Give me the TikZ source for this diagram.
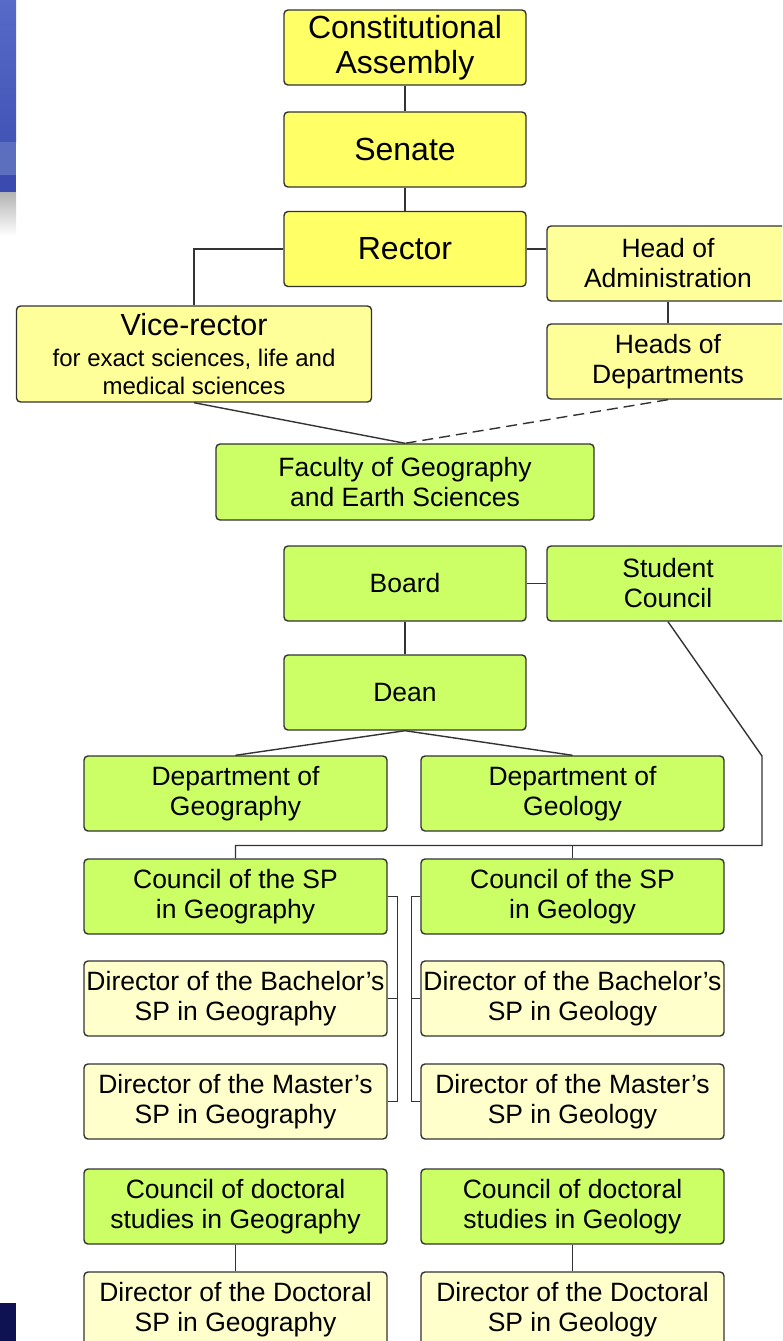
\documentclass[tikz,border=0pt]{standalone}
\usepackage{fontspec}
\setmainfont{Liberation Sans}
\definecolor{gold}{HTML}{FFFF66}
\definecolor{paleyellow}{HTML}{FFFF99}
\definecolor{cream}{HTML}{FFFFCC}
\definecolor{lime}{HTML}{CCFF66}
\definecolor{edge}{HTML}{333333}
\definecolor{stripA}{RGB}{88,106,200}
\definecolor{stripB}{RGB}{66,84,182}
\definecolor{stripC}{RGB}{92,110,190}
\definecolor{stripD}{RGB}{58,74,174}
\definecolor{navy}{RGB}{14,18,82}
\begin{document}
\begin{tikzpicture}[x=1pt,y=-1pt,
  box/.style={draw=edge, line width=1.4pt, rounded corners=4pt, align=center,
    inner sep=0pt, text=black},
  big/.style={font=\fontsize{32}{35}\selectfont},
  mid/.style={font=\fontsize{26.5}{30}\selectfont},
  wide/.style={minimum width=242pt, minimum height=75pt},
  dept/.style={minimum width=303pt, minimum height=75pt},
  link/.style={draw=edge, line width=1.4pt}]
\useasboundingbox (0,0) rectangle (782,1341);
\clip (0,0) rectangle (782,1341);

% slide edge decoration
\shade[top color=stripA, bottom color=stripB] (0,0) rectangle (16,142);
\fill[stripC] (0,142) rectangle (16,175);
\fill[stripD] (0,175) rectangle (16,192);
\shade[top color=black!30, bottom color=white] (0,192) rectangle (16,236);
\fill[navy] (0,1303) rectangle (16,1341);

% university level
\node[box, fill=gold, big, wide] (const) at (405,47.5) {Constitutional\\Assembly};
\node[box, fill=gold, big, wide] (senate) at (405,149.5) {Senate};
\node[box, fill=gold, big, wide] (rector) at (405,249) {Rector};
\node[box, fill=paleyellow, mid, wide] (headadmin) at (668,263.5) {Head of\\Administration};
\node[box, fill=paleyellow, mid, wide] (headsdept) at (668,361.5) {Heads of\\Departments};
\node[box, fill=paleyellow, minimum width=355pt, minimum height=96pt,
  font=\fontsize{24}{28}\selectfont] (vice) at (194,354)
  {{\fontsize{30.5}{30}\selectfont Vice-rector}\\[3pt] for exact sciences, life and\\ medical sciences};

% faculty level
\node[box, fill=lime, mid, minimum width=378pt, minimum height=76pt] (faculty) at (405,482)
  {Faculty of Geography\\and Earth Sciences};
\node[box, fill=lime, mid, wide] (board) at (405,583.5) {Board};
\node[box, fill=lime, mid, wide] (student) at (668,583.5) {Student\\Council};
\node[box, fill=lime, mid, wide] (dean) at (405,692.5) {Dean};

% departments and study programmes
\node[box, fill=lime, mid, dept] (deptgeog) at (235.5,793.5) {Department of\\Geography};
\node[box, fill=lime, mid, dept] (deptgeol) at (572.5,793.5) {Department of\\Geology};
\node[box, fill=lime, mid, dept] (councilgeog) at (235.5,896.5) {Council of the SP\\in Geography};
\node[box, fill=lime, mid, dept] (councilgeol) at (572.5,896.5) {Council of the SP\\in Geology};
\node[box, fill=cream, mid, dept] (bachgeog) at (235.5,998.5) {Director of the Bachelor’s\\SP in Geography};
\node[box, fill=cream, mid, dept] (bachgeol) at (572.5,998.5) {Director of the Bachelor’s\\SP in Geology};
\node[box, fill=cream, mid, dept] (mastgeog) at (235.5,1101.5) {Director of the Master’s\\SP in Geography};
\node[box, fill=cream, mid, dept] (mastgeol) at (572.5,1101.5) {Director of the Master’s\\SP in Geology};
\node[box, fill=lime, mid, dept] (docgeog) at (235.5,1206.5) {Council of doctoral\\studies in Geography};
\node[box, fill=lime, mid, dept] (docgeol) at (572.5,1206.5) {Council of doctoral\\studies in Geology};
\node[box, fill=cream, mid, dept] (dirdocgeog) at (235.5,1309.5) {Director of the Doctoral\\SP in Geography};
\node[box, fill=cream, mid, dept] (dirdocgeol) at (572.5,1309.5) {Director of the Doctoral\\SP in Geology};

% connectors
\draw[link] (const) -- (senate);
\draw[link] (senate) -- (rector);
\draw[link] (rector.east) -- (rector.east -| headadmin.west);
\draw[link] (headadmin) -- (headsdept);
\draw[link] (rector.west) -| (vice.north);
\draw[link] (vice.south) -- (faculty.north);
\draw[link, dash pattern=on 11pt off 6pt] (headsdept.south) -- (faculty.north);
\draw[link] (board.east) -- (student.west);
\draw[link] (board) -- (dean);
\draw[link] (dean.south) -- (deptgeog.north);
\draw[link] (dean.south) -- (deptgeol.north);

\coordinate (bend) at (762,756);
\coordinate (rail) at (762,845.5);
\draw[link] (student.south) -- (bend) -- (rail) -| (councilgeog.north);
\draw[link] (councilgeol.north) |- (rail);

\coordinate (gb) at ([xshift=10pt]bachgeog.east);
\draw[link] (councilgeog.east) -| (gb) |- (mastgeog.east);
\draw[link] (gb) -- (bachgeog.east);
\coordinate (lb) at ([xshift=-9pt]bachgeol.west);
\draw[link] (councilgeol.west) -| (lb) |- (mastgeol.west);
\draw[link] (lb) -- (bachgeol.west);

\draw[link] (docgeog) -- (dirdocgeog);
\draw[link] (docgeol) -- (dirdocgeol);
\end{tikzpicture}
\end{document}
